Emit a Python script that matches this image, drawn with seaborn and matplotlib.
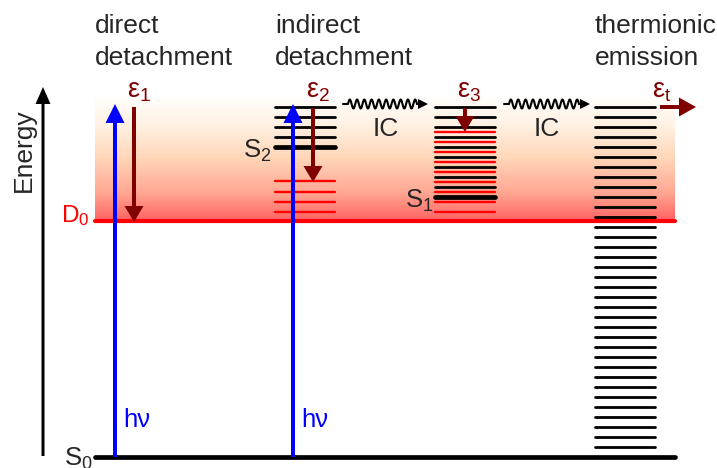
import numpy as np
import pandas as pd
import matplotlib
matplotlib.use("Agg")
import matplotlib.pyplot as plt
from matplotlib.colors import LinearSegmentedColormap
import seaborn as sns

# ---------------- data (pixel-like energy coordinates, smaller = higher) ----
S0_y = 457
D0_y = 221
s2_black_levels = [107, 117, 127, 137]
s2_level = 147
s2_red_levels = [181, 192, 202, 212]
s1_black_levels = [107, 117, 127, 137, 147, 157, 167, 177, 187]
s1_level = 197
s1_red_levels = [132, 142, 152, 162, 172, 182, 192, 202, 212]
thermionic_levels = [107, 117, 127, 137, 147, 157, 167, 177, 187, 197, 207, 217,
                     227, 237, 247, 257, 267, 277, 287, 297, 307, 317, 327, 337,
                     347, 357, 367, 377, 387, 397, 407, 417, 427, 437, 447]
headers = [("direct", "detachment"), ("indirect", "detachment"), ("thermionic", "emission")]
eps_labels = ["ε$_1$", "ε$_2$", "ε$_3$", "ε$_\\mathrm{t}$"]

sns.set_theme(style="white")
plt.rcParams['font.family'] = ['Liberation Sans', 'DejaVu Sans']
plt.rcParams['mathtext.fontset'] = 'custom'
plt.rcParams['mathtext.rm'] = 'Liberation Sans'
plt.rcParams['mathtext.it'] = 'Liberation Sans'
plt.rcParams['mathtext.default'] = 'regular'

fig = plt.figure(figsize=(7.17, 4.68), dpi=100)
ax = fig.add_axes([0, 0, 1, 1])

BLACK = "black"
RED = "#ff0000"
BLUE = "#0000ff"
DRED = "#800000"

# gradient region between D0 and top
cmap = LinearSegmentedColormap.from_list(
    "grad", [(0, "#ffffff"), (0.25, "#fff0e0"), (0.5, "#ffd6b8"),
             (0.78, "#ffa692"), (1.0, "#ff6262")])
grad = np.linspace(0, 1, 256).reshape(-1, 1)
ax.imshow(grad, extent=[95, 675, D0_y, 95], origin="upper", cmap=cmap,
          aspect="auto", zorder=0, interpolation="bilinear")


def ladder(levels, x0, x1, color, lw):
    rows = []
    for i, y in enumerate(levels):
        rows.append({"x": x0, "y": y, "lvl": i})
        rows.append({"x": x1, "y": y, "lvl": i})
    df = pd.DataFrame(rows)
    sns.lineplot(data=df, x="x", y="y", units="lvl", estimator=None, sort=False,
                 color=color, linewidth=lw, ax=ax, legend=False, zorder=3)


# indirect column
ladder(s2_black_levels, 275, 335, BLACK, 2.0)
ladder([s2_level], 275, 335, BLACK, 3.4)
ladder(s2_red_levels, 275, 335, RED, 1.7)
# S1 column
ladder(s1_black_levels, 435, 495, BLACK, 2.0)
ladder([s1_level], 435, 495, BLACK, 3.4)
ladder(s1_red_levels, 435, 495, RED, 1.7)
# thermionic column
ladder(thermionic_levels, 595, 655, BLACK, 2.0)
# D0 and S0
ladder([D0_y], 95, 675, RED, 3.0)
ladder([S0_y], 95, 675, BLACK, 3.4)

# energy axis
ax.add_patch(matplotlib.patches.FancyArrow(43, 456, 0, 87 - 456, width=3, head_width=15,
                                           head_length=17, length_includes_head=True,
                                           color=BLACK, zorder=4, lw=0))

# blue photon arrows
for x in [115, 293]:
    ax.add_patch(matplotlib.patches.FancyArrow(x, S0_y, 0, 104 - S0_y, width=4, head_width=19,
                                               head_length=19, length_includes_head=True,
                                               color=BLUE, zorder=5, lw=0))
    ax.text(x + 8, 427, "hν", color=BLUE, fontsize=18.5, ha="left", va="baseline")

# dark red electron arrows
for x, y0, y1 in [(134, 107, 222), (313, 108, 182), (465, 108, 132)]:
    ax.add_patch(matplotlib.patches.FancyArrow(x, y0, 0, y1 - y0, width=4, head_width=19,
                                               head_length=16, length_includes_head=True,
                                               color=DRED, zorder=6, lw=0))
ax.add_patch(matplotlib.patches.FancyArrow(660, 107, 696 - 660, 0, width=4, head_width=19,
                                           head_length=17, length_includes_head=True,
                                           color=DRED, zorder=6, lw=0))

for (x, y), lab in zip([(127, 98), (306, 98), (457, 98), (652, 97)], eps_labels):
    ax.text(x, y, lab, color=DRED, fontsize=19.5, ha="left", va="baseline")

# IC wavy arrows
for xs, xe in [(343, 428), (504, 590)]:
    xw = np.linspace(xs + 5, xe - 11, 400)
    yw = 104 - 4.5 * np.sin(2 * np.pi * (xw - xw[0]) / ((xw[-1] - xw[0]) / 9.5))
    ax.plot(np.r_[xs, xw], np.r_[104, yw], color=BLACK, lw=1.5, zorder=4)
    ax.add_patch(matplotlib.patches.FancyArrow(xe - 12, 104, 12, 0, width=1.5, head_width=10,
                                               head_length=10, length_includes_head=True,
                                               color=BLACK, zorder=4, lw=0))
    ax.text((xs + xe) / 2, 136, "IC", fontsize=19, ha="center", va="baseline")

# headers
for x, (l1, l2) in zip([95, 275, 595], headers):
    ax.text(x, 33, l1, fontsize=19, ha="left", va="baseline")
    ax.text(x, 65, l2, fontsize=19, ha="left", va="baseline")

# state labels
ax.text(24, 150, "Energy", fontsize=19, rotation=90, ha="center", va="center")
ax.text(61, 222, "D$_0$", fontsize=17.5, color=RED, ha="left", va="baseline")
ax.text(64, 466, "S$_0$", fontsize=18.5, ha="left", va="baseline")
ax.text(243, 158, "S$_2$", fontsize=18.5, ha="left", va="baseline")
ax.text(405, 208, "S$_1$", fontsize=18.5, ha="left", va="baseline")

ax.set_xlim(0, 717)
ax.set_ylim(468, 0)
ax.axis("off")

fig.savefig("out.png", dpi=100)
